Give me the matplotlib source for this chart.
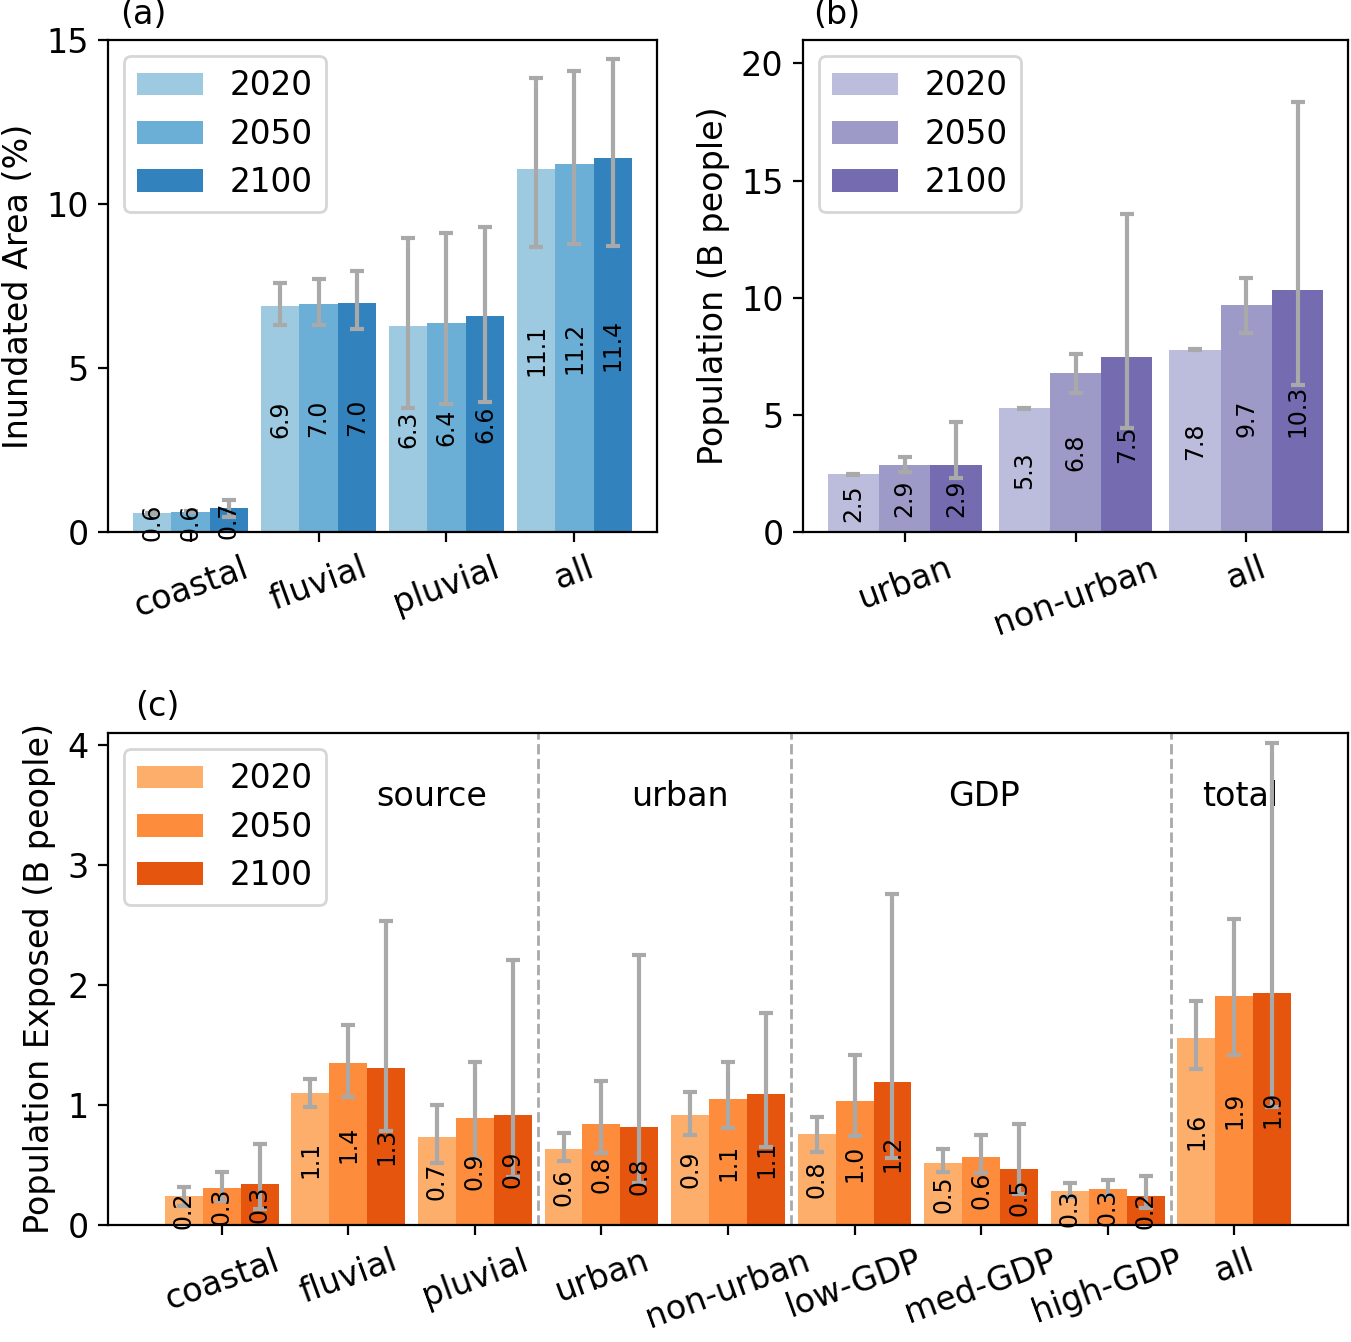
import matplotlib
matplotlib.use("Agg")
import matplotlib.pyplot as plt
import numpy as np

years = ["2020", "2050", "2100"]

# Panel (a): inundated area (%)
cat_a = ["coastal", "fluvial", "pluvial", "all"]
a_2020 = [0.57, 6.88, 6.27, 11.07]
a_2050 = [0.62, 6.96, 6.37, 11.22]
a_2100 = [0.73, 6.98, 6.58, 11.40]
a_lo_2020 = [0.55, 6.30, 3.79, 8.68]
a_hi_2020 = [0.59, 7.59, 8.96, 13.84]
a_lo_2050 = [0.60, 6.30, 3.89, 8.78]
a_hi_2050 = [0.64, 7.70, 9.11, 14.05]
a_lo_2100 = [0.45, 6.18, 3.97, 8.73]
a_hi_2100 = [0.98, 7.96, 9.29, 14.42]

# Panel (b): population (B people)
cat_b = ["urban", "non-urban", "all"]
b_2020 = [2.46, 5.28, 7.78]
b_2050 = [2.88, 6.77, 9.68]
b_2100 = [2.86, 7.46, 10.33]
b_lo_2020 = [2.44, 5.26, 7.76]
b_hi_2020 = [2.48, 5.30, 7.80]
b_lo_2050 = [2.57, 5.92, 8.49]
b_hi_2050 = [3.20, 7.59, 10.83]
b_lo_2100 = [2.30, 4.45, 6.28]
b_hi_2100 = [4.69, 13.58, 18.35]

# Panel (c): population exposed (B people)
cat_c = ["coastal", "fluvial", "pluvial", "urban", "non-urban",
         "low-GDP", "med-GDP", "high-GDP", "all"]
c_2020 = [0.24, 1.10, 0.73, 0.63, 0.92, 0.76, 0.52, 0.28, 1.56]
c_2050 = [0.31, 1.35, 0.89, 0.84, 1.05, 1.03, 0.57, 0.30, 1.91]
c_2100 = [0.34, 1.31, 0.92, 0.82, 1.09, 1.19, 0.47, 0.24, 1.93]
c_lo_2020 = [0.16, 0.98, 0.52, 0.53, 0.75, 0.61, 0.44, 0.23, 1.30]
c_hi_2020 = [0.32, 1.22, 1.00, 0.77, 1.11, 0.90, 0.63, 0.35, 1.87]
c_lo_2050 = [0.20, 1.07, 0.55, 0.60, 0.81, 0.74, 0.43, 0.24, 1.42]
c_hi_2050 = [0.44, 1.67, 1.36, 1.20, 1.36, 1.42, 0.75, 0.375, 2.55]
c_lo_2100 = [0.13, 0.78, 0.40, 0.35, 0.65, 0.56, 0.26, 0.14, 0.98]
c_hi_2100 = [0.675, 2.53, 2.21, 2.25, 1.77, 2.76, 0.84, 0.41, 4.02]

sections = ["source", "urban", "GDP", "total"]
section_x = [1.66, 3.62, 6.02, 8.05]
dividers = [2.5, 4.5, 7.5]

blues = ["#9ecae1", "#6baed6", "#3182bd"]
purples = ["#bcbddc", "#9e9ac8", "#756bb1"]
oranges = ["#fdae6b", "#fd8d3c", "#e6550d"]

W, H = 1351, 1342
dpi = 200
fig = plt.figure(figsize=(W / dpi, H / dpi), dpi=dpi)

def frac(l, t, r, b):
    return [l / W, 1 - b / H, (r - l) / W, (b - t) / H]

ax_a = fig.add_axes(frac(108, 40, 657, 532))
ax_b = fig.add_axes(frac(803, 40, 1348, 532))
ax_c = fig.add_axes(frac(108, 733, 1348, 1225))

TICK = 12
LEG = 11.8
LAB = 8.5
width = 0.3

def draw(ax, cats, vals, los, his, colors):
    x = np.arange(len(cats))
    for i, (v, lo, hi, col, yr) in enumerate(zip(vals, los, his, colors, years)):
        xi = x + (i - 1) * width
        v = np.array(v)
        ax.bar(xi, v, width, color=col, label=yr, zorder=2)
        for xx, vv in zip(xi, v):
            ax.text(xx, vv / 2, f"{vv:.1f}", rotation=90, ha="center",
                    va="center", fontsize=LAB, zorder=5)
        yerr = [v - np.array(lo), np.array(hi) - v]
        ax.errorbar(xi, v, yerr=yerr, fmt="none", ecolor="darkgray",
                    elinewidth=1.5, capsize=2.4, capthick=1.5, zorder=4)
    ax.set_xticks(x)
    ax.set_xticklabels(cats, rotation=20, ha="center", fontsize=TICK)
    ax.tick_params(axis="y", labelsize=TICK)
    ax.legend(loc="upper left", fontsize=LEG, labelspacing=0.46)

draw(ax_a, cat_a, [a_2020, a_2050, a_2100],
     [a_lo_2020, a_lo_2050, a_lo_2100], [a_hi_2020, a_hi_2050, a_hi_2100], blues)
ax_a.set_ylim(0, 15)
ax_a.set_yticks([0, 5, 10, 15])
ax_a.set_ylabel("Inundated Area (%)", fontsize=TICK)

draw(ax_b, cat_b, [b_2020, b_2050, b_2100],
     [b_lo_2020, b_lo_2050, b_lo_2100], [b_hi_2020, b_hi_2050, b_hi_2100], purples)
ax_b.set_ylim(0, 21)
ax_b.set_yticks([0, 5, 10, 15, 20])
ax_b.set_ylabel("Population (B people)", fontsize=TICK)

draw(ax_c, cat_c, [c_2020, c_2050, c_2100],
     [c_lo_2020, c_lo_2050, c_lo_2100], [c_hi_2020, c_hi_2050, c_hi_2100], oranges)
ax_c.set_ylim(0, 4.1)
ax_c.set_xlim(-0.9, 8.9)
ax_c.set_yticks([0, 1, 2, 3, 4])
ax_c.set_ylabel("Population Exposed (B people)", fontsize=TICK)
for d in dividers:
    ax_c.axvline(d, color="darkgray", linestyle="--", linewidth=1.0, zorder=1)
for s, sx in zip(sections, section_x):
    ax_c.text(sx, 3.57, s, ha="center", va="center", fontsize=TICK)

fig.text(143 / W, 1 - 14 / H, "(a)", ha="center", va="center", fontsize=TICK)
fig.text(837 / W, 1 - 14 / H, "(b)", ha="center", va="center", fontsize=TICK)
fig.text(157 / W, 1 - 707 / H, "(c)", ha="center", va="center", fontsize=TICK)

fig.savefig("out.png", dpi=dpi)
